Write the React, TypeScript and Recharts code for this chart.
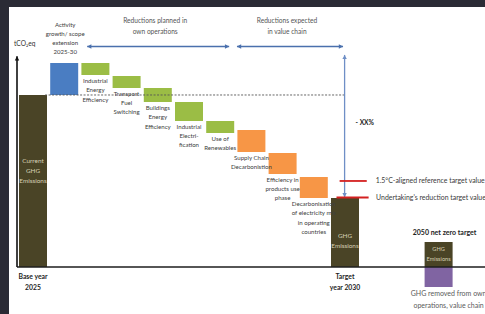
import React from "react";
import { BarChart, Bar, XAxis, YAxis, Cell, LabelList, ReferenceLine } from "recharts";

const FONT = "Lato, 'Liberation Sans', sans-serif";

// waterfall steps, tCO2eq scaled so that current emissions = 100
const categories = [
  "Current GHG emissions",
  "Activity growth / scope extension",
  "Industrial energy efficiency",
  "Transport fuel switching",
  "Buildings energy efficiency",
  "Industrial electrification",
  "Use of renewables",
  "Supply chain decarbonisation",
  "Efficiency in products use phase",
  "Decarbonisation of electricity mix",
  "GHG emissions 2030",
  " ",
  "  ",
  "GHG emissions 2050",
  "   ",
];
const kinds = ["total", "increase", "own", "own", "own", "own", "own", "chain", "chain", "chain", "total", "gap", "gap", "total", "gap"];
const barBottom = [0, 100, 111.6, 104.1, 95.9, 84.9, 77.9, 66.9, 54.1, 40.1, 0, 0, 0, 0, 0];
const barTop = [100, 118.6, 118.6, 111.0, 104.1, 95.9, 84.9, 79.7, 66.3, 52.3, 40.1, 0, 0, 14.5, 0];
const removedValues = [0, 0, 0, 0, 0, 0, 0, 0, 0, 0, 0, 0, 0, -11.6, 0];

const barLabels: string[][] = [
  ["Current", "GHG", "Emissions"],
  ["Activity", "growth/ scope", "extension", "2025-30"],
  ["Industrial", "Energy", "Efficiency"],
  ["Transport", "Fuel", "Switching"],
  ["Buildings", "Energy", "Efficiency"],
  ["Industrial", "Electri-", "fication"],
  ["Use of", "Renewables"],
  ["Supply Chain", "Decarbonistion"],
  ["Efficiency in", "products use", "phase"],
  ["Decarbonisation", "of electricity mix", "in operating", "countries"],
  ["GHG", "Emissions"],
  [],
  [],
  ["GHG", "Emissions"],
  [],
];
const axisLabels: string[][] = [["Base year", "2025"], [], [], [], [], [], [], [], [], [], ["Target", "year 2030"], [], [], [], []];
const topNotes = ["", "", "", "", "", "", "", "", "", "", "", "", "", "2050 net zero target", ""];
const removedLabel = ["GHG removed from own", "operations, value chain"];

const kindColor: Record<string, string> = {
  total: "#4a4426",
  increase: "#4a7dc2",
  own: "#9bbd45",
  chain: "#f79646",
  gap: "transparent",
};

const rows = categories.map((name, i) => ({
  name,
  base: barBottom[i],
  delta: barTop[i] - barBottom[i],
  removed: removedValues[i],
}));

function Lines(props: {
  x: number;
  y: number;
  lines: string[];
  size: number;
  lh: number;
  fill: string;
  weight?: number;
  anchor?: "start" | "middle" | "end";
}) {
  const { x, y, lines, size, lh, fill, weight = 400, anchor = "middle" } = props;
  return (
    <text fontFamily={FONT} fontSize={size} fill={fill} fontWeight={weight} textAnchor={anchor}>
      {lines.map((l, i) => (
        <tspan key={i} x={x} y={y + i * lh + size * 0.35}>
          {l}
        </tspan>
      ))}
    </text>
  );
}

function box(p: any) {
  const vb = p.viewBox && typeof p.viewBox.x === "number" ? p.viewBox : p;
  const { x, y, width, height } = vb;
  if ([x, y, width, height].some((v) => typeof v !== "number" || isNaN(v))) return null;
  return { x, top: Math.min(y, y + height), bottom: Math.max(y, y + height), width, h: Math.abs(height) };
}

// labels are looked up by category name (LabelList dataKey="name")
const idxOf = (p: any) => categories.indexOf(p.value);

function renderBarLabel(p: any) {
  const b = box(p);
  const i = idxOf(p);
  if (!b || i < 0) return null;
  const lines = barLabels[i] || [];
  if (!lines.length) return null;
  const cx = b.x + b.width / 2;
  const kind = kinds[i];
  if (kind === "total") {
    const ratio = i === 0 ? 0.44 : b.h > 40 ? 0.62 : 0.5;
    const cy = b.top + b.h * ratio - ((lines.length - 1) * 10) / 2;
    return <Lines x={cx} y={cy} lines={lines} size={i === 13 ? 5.6 : 6.4} lh={10} fill="#d8d2b6" />;
  }
  if (kind === "increase") {
    const first = b.top - 10.7 - (lines.length - 1) * 9.1;
    return <Lines x={cx + 1} y={first} lines={lines} size={6.1} lh={9.1} fill="#404040" />;
  }
  return <Lines x={cx} y={b.bottom + 6} lines={lines} size={6.1} lh={9.2} fill="#404040" />;
}

function renderAxisLabel(p: any) {
  const b = box(p);
  const i = idxOf(p);
  if (!b || i < 0) return null;
  const cx = b.x + b.width / 2;
  const out: React.ReactNode[] = [];
  const ax = axisLabels[i] || [];
  if (ax.length) out.push(<Lines key="a" x={cx} y={b.bottom + 10} lines={ax} size={6.8} lh={11} fill="#1e1e1e" weight={700} />);
  if (topNotes[i]) out.push(<Lines key="n" x={cx + 6} y={b.top - 9} lines={[topNotes[i]]} size={7} lh={10} fill="#1e1e1e" weight={700} />);
  return out.length ? <g>{out}</g> : null;
}

function renderRemovedLabel(p: any) {
  const b = box(p);
  const i = idxOf(p);
  if (!b || i < 0 || !removedValues[i]) return null;
  return <Lines x={b.x + b.width / 2 + 10} y={b.bottom + 7} lines={removedLabel} size={7} lh={12} fill="#5a5a5a" />;
}

function arrowLine(color: string, width: number, start: boolean, end: boolean, dash?: string) {
  return (p: any) => {
    const x1 = Number(p.x1);
    const y1 = Number(p.y1);
    const x2 = Number(p.x2);
    const y2 = Number(p.y2);
    if ([x1, y1, x2, y2].some((v) => isNaN(v))) return null;
    const len = Math.hypot(x2 - x1, y2 - y1) || 1;
    const ux = (x2 - x1) / len;
    const uy = (y2 - y1) / len;
    const head = (tx: number, ty: number, dx: number, dy: number) => {
      const L = 4.2;
      const W = 2.2;
      const bx = tx - dx * L;
      const by = ty - dy * L;
      return `${tx},${ty} ${bx - dy * W},${by + dx * W} ${bx + dy * W},${by - dx * W}`;
    };
    return (
      <g>
        <line x1={x1} y1={y1} x2={x2} y2={y2} stroke={color} strokeWidth={width} strokeDasharray={dash} />
        {start ? <polygon points={head(x1, y1, -ux, -uy)} fill={color} /> : null}
        {end ? <polygon points={head(x2, y2, ux, uy)} fill={color} /> : null}
      </g>
    );
  };
}

function vbOf(p: any) {
  const vb = p && p.viewBox;
  if (!vb || typeof vb.x !== "number") return null;
  return vb;
}

const headerLabel = (lines: string[]) => (p: any) => {
  const vb = vbOf(p);
  if (!vb) return null;
  return <Lines x={vb.x + vb.width / 2 - 3} y={vb.y - 26} lines={lines} size={6.6} lh={11.5} fill="#555" />;
};

const sideLabel = (text: string, dx: number) => (p: any) => {
  const vb = vbOf(p);
  if (!vb) return null;
  return <Lines x={vb.x + vb.width + dx} y={vb.y + vb.height / 2} lines={[text]} size={6.9} lh={10} fill="#3a3a3a" anchor="start" />;
};

const unitLabel = (p: any) => {
  const vb = vbOf(p);
  if (!vb) return null;
  return <Lines x={vb.x - 3} y={vb.y - 13} lines={["tCO₂eq"]} size={6.6} lh={10} fill="#333" anchor="start" />;
};

const xxLabel = (p: any) => {
  const vb = vbOf(p);
  if (!vb) return null;
  return <Lines x={vb.x + 11} y={vb.y + vb.height / 2 - 3} lines={["- XX%"]} size={6.6} lh={10} fill="#222" anchor="start" weight={700} />;
};

// hidden numeric axis mirroring the category bands: value i = centre of category i
const BAND_HALF = 468 / 15 / 2;

export default function App() {
  return (
    <div style={{ position: "relative", width: 485, height: 314, background: "#2a2b35", overflow: "hidden" }}>
      <style>{"body{margin:0}"}</style>
      <div style={{ position: "absolute", left: 9, top: 7, right: 0, bottom: 0, background: "#ffffff" }} />
      <div style={{ position: "absolute", left: 0, top: 0 }}>
        <BarChart
          width={485}
          height={314}
          data={rows}
          stackOffset="sign"
          barSize={28}
          margin={{ top: 34.8, right: 0, bottom: 9.2, left: 17 }}
        >
          <XAxis dataKey="name" hide />
          <XAxis
            xAxisId="idx"
            type="number"
            domain={[0, 14]}
            padding={{ left: BAND_HALF, right: BAND_HALF }}
            allowDataOverflow
            hide
          />
          <YAxis domain={[-22, 135]} allowDataOverflow hide />

          <Bar dataKey="base" stackId="w" fill="transparent" isAnimationActive={false} />
          <Bar dataKey="delta" stackId="w" isAnimationActive={false}>
            {rows.map((r, i) => (
              <Cell key={r.name + i} fill={kindColor[kinds[i]]} />
            ))}
            <LabelList dataKey="name" content={renderBarLabel} />
            <LabelList dataKey="name" content={renderAxisLabel} />
          </Bar>
          <Bar dataKey="removed" stackId="w" fill="#8064a2" isAnimationActive={false}>
            <LabelList dataKey="name" content={renderRemovedLabel} />
          </Bar>

          <ReferenceLine y={0} stroke="#1e1e1e" strokeWidth={1.6} />
          <ReferenceLine
            xAxisId="idx"
            ifOverflow="visible"
            segment={[{ x: 0.4, y: 100 }, { x: 10, y: 100 }]}
            shape={arrowLine("#555", 0.9, false, false, "2 1.5")}
          />
          {/* vertical axis arrow drawn at the start of the first category band */}
          <ReferenceLine
            ifOverflow="visible"
            position="start"
            segment={[{ x: categories[0], y: 0 }, { x: categories[0], y: 122.5 }]}
            shape={arrowLine("#111", 1.6, false, true)}
            label={unitLabel}
          />
          <ReferenceLine
            xAxisId="idx"
            ifOverflow="visible"
            segment={[{ x: 1.75, y: 128.2 }, { x: 6.3, y: 128.2 }]}
            shape={arrowLine("#4a70ad", 1.6, true, true)}
            label={headerLabel(["Reductions planned in", "own operations"])}
          />
          <ReferenceLine
            xAxisId="idx"
            ifOverflow="visible"
            segment={[{ x: 6.55, y: 128.2 }, { x: 9.95, y: 128.2 }]}
            shape={arrowLine("#4a70ad", 1.6, true, true)}
            label={headerLabel(["Reductions expected", "in value chain"])}
          />
          <ReferenceLine
            xAxisId="idx"
            ifOverflow="visible"
            segment={[{ x: 10, y: 123.3 }, { x: 10, y: 40.6 }]}
            shape={arrowLine("#6f8fc6", 1.3, true, true)}
            label={xxLabel}
          />
          <ReferenceLine
            xAxisId="idx"
            ifOverflow="visible"
            segment={[{ x: 9.84, y: 50 }, { x: 10.71, y: 50 }]}
            shape={arrowLine("#d42020", 1.8, false, false)}
            label={sideLabel("1.5°C-aligned reference target value", 9)}
          />
          <ReferenceLine
            xAxisId="idx"
            ifOverflow="visible"
            segment={[{ x: 9.74, y: 40.4 }, { x: 10.77, y: 40.4 }]}
            shape={arrowLine("#d42020", 1.8, false, false)}
            label={sideLabel("Undertaking's reduction target value", 7.5)}
          />
        </BarChart>
      </div>
    </div>
  );
}
